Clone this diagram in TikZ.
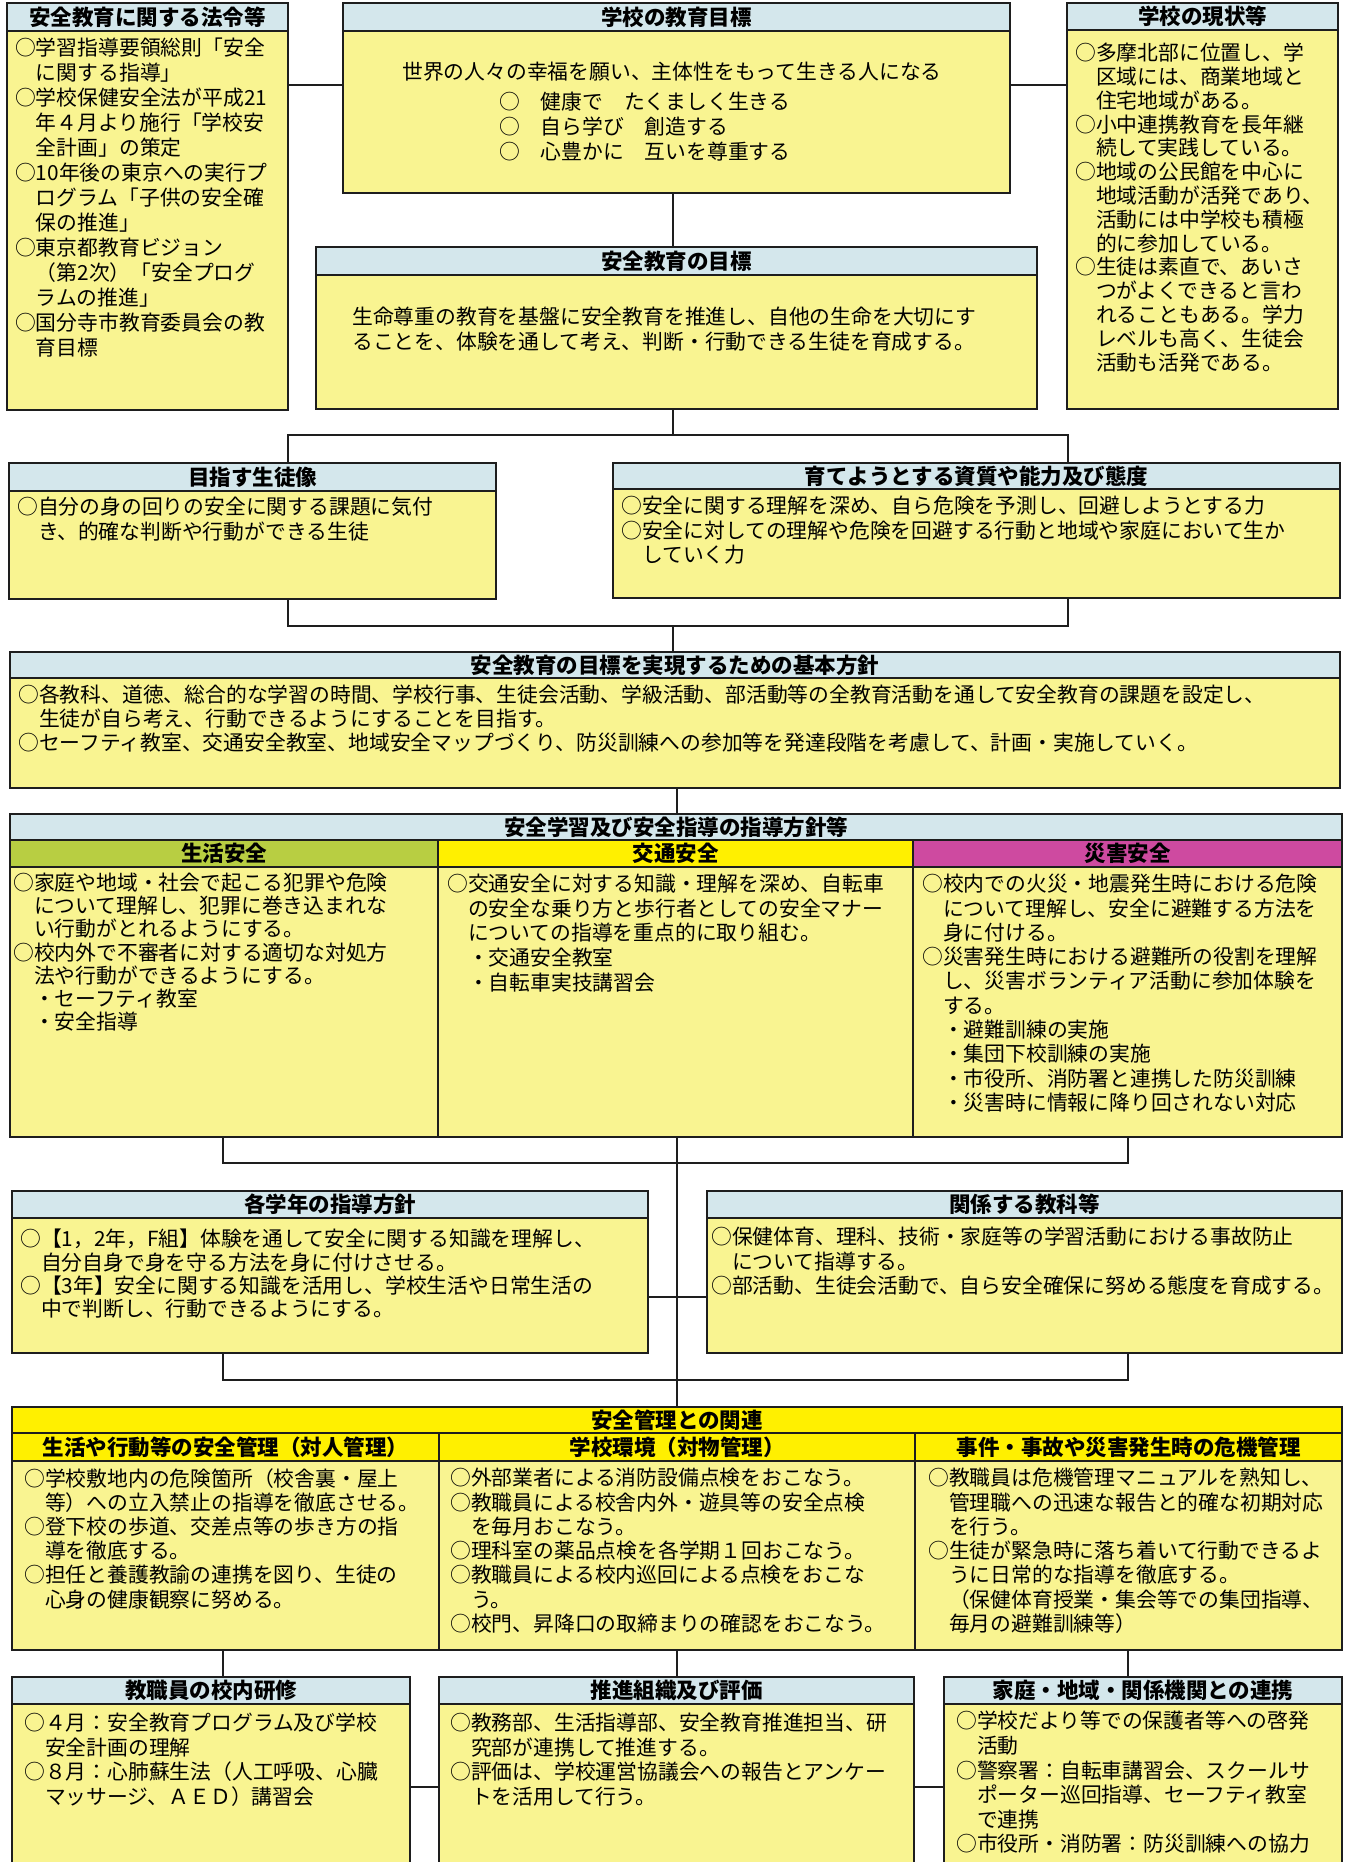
\documentclass[tikz,border=0pt]{standalone}
\usepackage{fontspec}
\newfontfamily\jp{Noto Sans CJK JP}
\definecolor{linec}{RGB}{30,30,30}
\definecolor{bodyc}{RGB}{249,244,145}
\definecolor{hdrc}{RGB}{212,231,236}
\definecolor{greenc}{RGB}{184,206,66}
\definecolor{yelc}{RGB}{255,240,0}
\definecolor{magc}{RGB}{206,74,160}
\newcommand\bodyf[1]{\jp\fontsize{20.8}{#1}\selectfont}
\newcommand\hdrf{\jp\bfseries\fontsize{21.5}{24}\selectfont}
\begin{document}
\begin{tikzpicture}[x=1pt,y=-1pt,
  box/.style={draw=linec, line width=1.8pt, fill=bodyc, anchor=north west, inner sep=0pt, outer sep=0pt},
  hdr/.style={draw=linec, line width=1.8pt, fill=hdrc, anchor=north west, inner sep=0pt, outer sep=0pt, font=\hdrf},
  body/.style={anchor=north west, inner sep=0pt, align=left},
  conn/.style={draw=linec, line width=1.8pt}]
\useasboundingbox (0,0) rectangle (1348,1862);
\clip (0,0) rectangle (1348,1862);
\fill[white] (0,0) rectangle (1348,1862);

% ---------- named coordinates for connector routes
\coordinate (y85) at (0,85);
\coordinate (xc) at (673,0);
\coordinate (xc2) at (677,0);
\coordinate (xa) at (288,0);
\coordinate (xb) at (1068,0);
\coordinate (xl) at (223,0);
\coordinate (xr) at (1128,0);
\coordinate (yI) at (0,1297);
\coordinate (yL) at (0,1787);

% ---------- row 1
\node[box, minimum width=281pt, minimum height=407pt] (A) at (7,3) {};
\node[hdr, minimum width=281pt, minimum height=28pt] (Ah) at (7,3) {安全教育に関する法令等};
\node[body, font=\bodyf{25}] (Ab) at (15,38) {○学習指導要領総則「安全\\　に関する指導」\\○学校保健安全法が平成21\\　年４月より施行「学校安\\　全計画」の策定\\○10年後の東京への実行プ\\　ログラム「子供の安全確\\　保の推進」\\○東京都教育ビジョン\\　（第2次）「安全プログ\\　ラムの推進」\\○国分寺市教育委員会の教\\　育目標};

\node[box, minimum width=667pt, minimum height=190pt] (B) at (343,3) {};
\node[hdr, minimum width=667pt, minimum height=28pt] (Bh) at (343,3) {学校の教育目標};
\node[anchor=center, inner sep=0pt, font=\bodyf{25}] (Bb1) at (672,72) {世界の人々の幸福を願い、主体性をもって生きる人になる};
\node[body, font=\bodyf{25}] (Bb2) at (499,92) {○　健康で　たくましく生きる\\○　自ら学び　創造する\\○　心豊かに　互いを尊重する};

\node[box, minimum width=271pt, minimum height=406pt] (C) at (1067,3) {};
\node[hdr, minimum width=271pt, minimum height=27pt] (Ch) at (1067,3) {学校の現状等};
\node[body, font=\bodyf{23.8}] (Cb) at (1075,43) {○多摩北部に位置し、学\\　区域には、商業地域と\\　住宅地域がある。\\○小中連携教育を長年継\\　続して実践している。\\○地域の公民館を中心に\\　地域活動が活発であり、\\　活動には中学校も積極\\　的に参加している。\\○生徒は素直で、あいさ\\　つがよくできると言わ\\　れることもある。学力\\　レベルも高く、生徒会\\　活動も活発である。};

\node[box, minimum width=721pt, minimum height=162pt] (D) at (316,247) {};
\node[hdr, minimum width=721pt, minimum height=28pt] (Dh) at (316,247) {安全教育の目標};
\node[body, font=\bodyf{25}] (Db) at (352,307) {生命尊重の教育を基盤に安全教育を推進し、自他の生命を大切にす\\ることを、体験を通して考え、判断・行動できる生徒を育成する。};

% ---------- row 2
\node[box, minimum width=487pt, minimum height=136pt] (E) at (9,463) {};
\node[hdr, minimum width=487pt, minimum height=28pt] (Eh) at (9,463) {目指す生徒像};
\node[body, font=\bodyf{25}] (Eb) at (17,497) {○自分の身の回りの安全に関する課題に気付\\　き、的確な判断や行動ができる生徒};

\node[box, minimum width=727pt, minimum height=135pt] (F) at (613,463) {};
\node[hdr, minimum width=727pt, minimum height=26pt] (Fh) at (613,463) {育てようとする資質や能力及び態度};
\node[body, font=\bodyf{24.5}] (Fb) at (621,496) {○安全に関する理解を深め、自ら危険を予測し、回避しようとする力\\○安全に対しての理解や危険を回避する行動と地域や家庭において生か\\　していく力};

% ---------- row 3
\node[box, minimum width=1330pt, minimum height=136pt] (G) at (10,652) {};
\node[hdr, minimum width=1330pt, minimum height=26pt] (Gh) at (10,652) {安全教育の目標を実現するための基本方針};
\node[body, font=\bodyf{24}] (Gb) at (18,685) {○各教科、道徳、総合的な学習の時間、学校行事、生徒会活動、学級活動、部活動等の全教育活動を通して安全教育の課題を設定し、\\　生徒が自ら考え、行動できるようにすることを目指す。\\○セーフティ教室、交通安全教室、地域安全マップづくり、防災訓練への参加等を発達段階を考慮して、計画・実施していく。};

% ---------- row 4
\node[box, minimum width=1332pt, minimum height=323pt] (H) at (10,814) {};
\node[hdr, minimum width=1332pt, minimum height=26pt] (Hh) at (10,814) {安全学習及び安全指導の指導方針等};
\node[hdr, fill=greenc, minimum width=428pt, minimum height=27pt] (H1) at (10,840) {生活安全};
\node[hdr, fill=yelc, minimum width=475pt, minimum height=27pt] (H2) at (438,840) {交通安全};
\node[hdr, fill=magc, minimum width=429pt, minimum height=27pt] (H3) at (913,840) {災害安全};
\draw[conn] (H2.north west) -- (H2.north west |- H.south);
\draw[conn] (H3.north west) -- (H3.north west |- H.south);
\node[body, font=\bodyf{23.1}] (H1b) at (13,873) {○家庭や地域・社会で起こる犯罪や危険\\　について理解し、犯罪に巻き込まれな\\　い行動がとれるようにする。\\○校内外で不審者に対する適切な対処方\\　法や行動ができるようにする。\\　・セーフティ教室\\　・安全指導};
\node[body, font=\bodyf{24.6}] (H2b) at (447,874) {○交通安全に対する知識・理解を深め、自転車\\　の安全な乗り方と歩行者としての安全マナー\\　についての指導を重点的に取り組む。\\　・交通安全教室\\　・自転車実技講習会};
\node[body, font=\bodyf{24.3}] (H3b) at (922,874) {○校内での火災・地震発生時における危険\\　について理解し、安全に避難する方法を\\　身に付ける。\\○災害発生時における避難所の役割を理解\\　し、災害ボランティア活動に参加体験を\\　する。\\　・避難訓練の実施\\　・集団下校訓練の実施\\　・市役所、消防署と連携した防災訓練\\　・災害時に情報に降り回されない対応};

% ---------- row 5
\node[box, minimum width=636pt, minimum height=162pt] (I) at (12,1191) {};
\node[hdr, minimum width=636pt, minimum height=27pt] (Ih) at (12,1191) {各学年の指導方針};
\node[body, font=\bodyf{23.3}] (Ib) at (20,1229) {○【1，2年，F組】体験を通して安全に関する知識を理解し、\\　自分自身で身を守る方法を身に付けさせる。\\○【3年】安全に関する知識を活用し、学校生活や日常生活の\\　中で判断し、行動できるようにする。};

\node[box, minimum width=635pt, minimum height=162pt] (J) at (707,1191) {};
\node[hdr, minimum width=635pt, minimum height=27pt] (Jh) at (707,1191) {関係する教科等};
\node[body, font=\bodyf{24.5}] (Jb) at (711,1227) {○保健体育、理科、技術・家庭等の学習活動における事故防止\\　について指導する。\\○部活動、生徒会活動で、自ら安全確保に努める態度を育成する。};

% ---------- row 6
\node[box, minimum width=1330pt, minimum height=243pt] (K) at (12,1407) {};
\node[hdr, fill=yelc, minimum width=1330pt, minimum height=26pt] (Kh) at (12,1407) {安全管理との関連};
\node[hdr, fill=yelc, minimum width=427pt, minimum height=28pt] (K1) at (12,1433) {生活や行動等の安全管理（対人管理）};
\node[hdr, fill=yelc, minimum width=476pt, minimum height=28pt] (K2) at (439,1433) {学校環境（対物管理）};
\node[hdr, fill=yelc, minimum width=427pt, minimum height=28pt] (K3) at (915,1433) {事件・事故や災害発生時の危機管理};
\draw[conn] (K2.north west) -- (K2.north west |- K.south);
\draw[conn] (K3.north west) -- (K3.north west |- K.south);
\node[body, font=\bodyf{24.2}] (K1b) at (24,1468) {○学校敷地内の危険箇所（校舎裏・屋上\\　等）への立入禁止の指導を徹底させる。\\○登下校の歩道、交差点等の歩き方の指\\　導を徹底する。\\○担任と養護教諭の連携を図り、生徒の\\　心身の健康観察に努める。};
\node[body, font=\bodyf{24.3}] (K2b) at (450,1468) {○外部業者による消防設備点検をおこなう。\\○教職員による校舎内外・遊具等の安全点検\\　を毎月おこなう。\\○理科室の薬品点検を各学期１回おこなう。\\○教職員による校内巡回による点検をおこな\\　う。\\○校門、昇降口の取締まりの確認をおこなう。};
\node[body, font=\bodyf{24.3}] (K3b) at (928,1468) {○教職員は危機管理マニュアルを熟知し、\\　管理職への迅速な報告と的確な初期対応\\　を行う。\\○生徒が緊急時に落ち着いて行動できるよ\\　うに日常的な指導を徹底する。\\　（保健体育授業・集会等での集団指導、\\　毎月の避難訓練等）};

% ---------- row 7
\node[box, minimum width=398pt, minimum height=220pt] (L) at (12,1677) {};
\node[hdr, minimum width=398pt, minimum height=27pt] (Lh) at (12,1677) {教職員の校内研修};
\node[body, font=\bodyf{24.5}] (Lb) at (24,1713) {○４月：安全教育プログラム及び学校\\　安全計画の理解\\○８月：心肺蘇生法（人工呼吸、心臓\\　マッサージ、ＡＥＤ）講習会};

\node[box, minimum width=475pt, minimum height=220pt] (M) at (439,1677) {};
\node[hdr, minimum width=475pt, minimum height=27pt] (Mh) at (439,1677) {推進組織及び評価};
\node[body, font=\bodyf{24.5}] (Mb) at (450,1713) {○教務部、生活指導部、安全教育推進担当、研\\　究部が連携して推進する。\\○評価は、学校運営協議会への報告とアンケー\\　トを活用して行う。};

\node[box, minimum width=398pt, minimum height=220pt] (N) at (944,1677) {};
\node[hdr, minimum width=398pt, minimum height=27pt] (Nh) at (944,1677) {家庭・地域・関係機関との連携};
\node[body, font=\bodyf{24.6}] (Nb) at (956,1711) {○学校だより等での保護者等への啓発\\　活動\\○警察署：自転車講習会、スクールサ\\　ポーター巡回指導、セーフティ教室\\　で連携\\○市役所・消防署：防災訓練への協力};

% ---------- connectors
\draw[conn] (A.east |- y85) -- (B.west |- y85);
\draw[conn] (B.east |- y85) -- (C.west |- y85);
\draw[conn] (B.south -| xc) -- (D.north -| xc);
\draw[conn] (D.south -| xc) -- ++(0,26);
\draw[conn] (E.north -| xa) -- ++(0,-28) -| (F.north -| xb);
\draw[conn] (E.south -| xa) -- ++(0,27) -| (F.south -| xb);
\draw[conn] (E.south -| xc) ++(0,27) -- (G.north -| xc);
\draw[conn] (G.south -| xc2) -- (H.north -| xc2);
\draw[conn] (H.south -| xl) -- ++(0,26) -| (H.south -| xr);
\draw[conn] (H.south -| xc2) -- (K.north -| xc2);
\draw[conn] (I.east |- yI) -- (J.west |- yI);
\draw[conn] (I.south -| xl) -- ++(0,27) -| (J.south -| xr);
\draw[conn] (K.south -| xl) -- (L.north -| xl);
\draw[conn] (K.south -| xc2) -- (M.north -| xc2);
\draw[conn] (K.south -| xr) -- (N.north -| xr);
\draw[conn] (L.east |- yL) -- (M.west |- yL);
\draw[conn] (M.east |- yL) -- (N.west |- yL);
\end{tikzpicture}
\end{document}
